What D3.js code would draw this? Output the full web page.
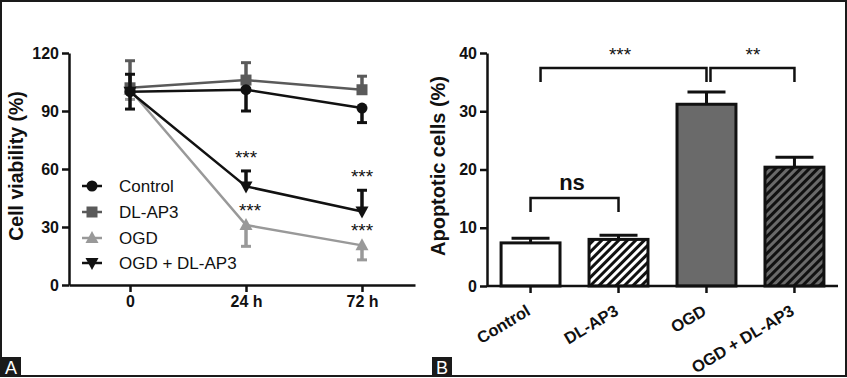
<!DOCTYPE html>
<html><head><meta charset="utf-8">
<script src="https://cdn.jsdelivr.net/npm/d3@7"></script>
<style>body{margin:0;background:#fff}svg{display:block}text{font-family:"Liberation Sans",Arial,sans-serif}</style>
</head><body><svg id="c" width="847" height="378"></svg>
<script>
// ---- Panel A data ----
const timeLabels = ["0", "24 h", "72 h"];
const seriesNames = ["Control", "DL-AP3", "OGD", "OGD + DL-AP3"];
const controlVals = [100, 101, 91.5];
const controlErr = [9, 11, 7.5];
const dlap3Vals = [102, 106, 101];
const dlap3Err = [14, 9, 7];
const ogdVals = [101, 31, 20.5];
const ogdErr = [5, 11, 7.5];
const ogdDlVals = [100, 51, 38];
const ogdDlErr = [9, 8, 11];
const viabilityTicks = [0, 30, 60, 90, 120];
const sigA = [{s: 3, i: 1, t: "***"}, {s: 3, i: 2, t: "***"}, {s: 2, i: 1, t: "***"}, {s: 2, i: 2, t: "***"}];

// ---- Panel B data ----
const groups = ["Control", "DL-AP3", "OGD", "OGD + DL-AP3"];
const apoptVals = [7.4, 8.0, 31.2, 20.4];
const apoptErr = [0.8, 0.7, 2.1, 1.7];
const apoptTicks = [0, 10, 20, 30, 40];

const svg = d3.select("#c");
const defs = svg.append("defs");
function hatch(id, bg) {
  const p = defs.append("pattern").attr("id", id).attr("patternUnits", "userSpaceOnUse")
    .attr("width", 6).attr("height", 6).attr("patternTransform", "rotate(45)");
  p.append("rect").attr("width", 6).attr("height", 6).attr("fill", bg);
  p.append("line").attr("x1", 1.5).attr("x2", 1.5).attr("y1", 0).attr("y2", 6)
    .attr("stroke", "#111").attr("stroke-width", 3);
}
hatch("h1", "#fff");
hatch("h2", "#6a6a6a");

// border
svg.append("rect").attr("x", 1).attr("y", 1).attr("width", 845).attr("height", 375)
  .attr("fill", "none").attr("stroke", "#1a1a1a").attr("stroke-width", 2);

function styleAxis(g) {
  g.selectAll("path,line").attr("stroke", "#111").attr("stroke-width", 2.5);
  g.selectAll("text").attr("font-weight", "bold").attr("font-size", 16).attr("fill", "#111");
}

// ===== Panel A =====
const xA = d3.scaleLinear().domain([-0.526, 2.457]).range([69, 415]);
const yA = d3.scaleLinear().domain([0, 120]).range([285, 53]);
const gA = svg.append("g");
gA.append("g").attr("transform", "translate(69,0)")
  .call(d3.axisLeft(yA).tickValues(viabilityTicks).tickSize(7).tickSizeOuter(0).tickPadding(3))
  .call(styleAxis);
gA.append("g").attr("transform", "translate(0,285)")
  .call(d3.axisBottom(xA).tickValues([0, 1, 2]).tickFormat(i => timeLabels[i]).tickSize(7).tickSizeOuter(0).tickPadding(4))
  .call(styleAxis);
gA.append("text").attr("transform", "translate(23,166) rotate(-90)").attr("text-anchor", "middle")
  .attr("font-weight", "bold").attr("font-size", 19.5).attr("fill", "#111").text("Cell viability (%)");

const series = [
  {vals: controlVals, err: controlErr, color: "#111", shape: "circle", dir: 1},
  {vals: dlap3Vals, err: dlap3Err, color: "#5a5a5a", shape: "square", dir: -1},
  {vals: ogdVals, err: ogdErr, color: "#999", shape: "tri", dir: 1},
  {vals: ogdDlVals, err: ogdDlErr, color: "#111", shape: "tridown", dir: -1}
];
function marker(g, shape, x, y, color) {
  if (shape === "circle") g.append("circle").attr("cx", x).attr("cy", y).attr("r", 5.5).attr("fill", color);
  else if (shape === "square") g.append("rect").attr("x", x - 5.5).attr("y", y - 5.5).attr("width", 11).attr("height", 11).attr("fill", color);
  else if (shape === "tri") g.append("path").attr("d", `M${x},${y-7}L${x+6.5},${y+5}L${x-6.5},${y+5}Z`).attr("fill", color);
  else g.append("path").attr("d", `M${x},${y+7}L${x+6.5},${y-5}L${x-6.5},${y-5}Z`).attr("fill", color);
}
const drawOrder = [2, 1, 0, 3];
drawOrder.forEach(k => {
  const s = series[k];
  const g = gA.append("g");
  g.append("path").datum(s.vals)
    .attr("d", d3.line().x((d, i) => xA(i)).y(d => yA(d)))
    .attr("fill", "none").attr("stroke", s.color).attr("stroke-width", 2.5);
  s.vals.forEach((v, i) => {
    const y2 = yA(v - s.dir * s.err[i]);
    g.append("line").attr("x1", xA(i)).attr("x2", xA(i)).attr("y1", yA(v)).attr("y2", y2)
      .attr("stroke", s.color).attr("stroke-width", 3.5);
    g.append("line").attr("x1", xA(i) - 5).attr("x2", xA(i) + 5).attr("y1", y2).attr("y2", y2)
      .attr("stroke", s.color).attr("stroke-width", 3);
    marker(g, s.shape, xA(i), yA(v), s.color);
  });
});
sigA.forEach(d => {
  const s = series[d.s];
  const top = yA(s.vals[d.i] + (s.dir < 0 ? s.err[d.i] : 0));
  gA.append("text").attr("x", xA(d.i) + (d.s === 2 && d.i === 1 ? 4 : 0)).attr("y", top - (d.s === 2 ? 8 : 7))
    .attr("text-anchor", "middle").attr("font-size", 19).attr("fill", "#111").text(d.t);
});
// legend
const legY = [186, 212, 238, 263];
series.forEach((s, k) => {
  const g = gA.append("g");
  g.append("line").attr("x1", 82).attr("x2", 102).attr("y1", legY[k]).attr("y2", legY[k])
    .attr("stroke", s.color).attr("stroke-width", 2.5);
  marker(g, s.shape, 92, legY[k], s.color);
  g.append("text").attr("x", 119).attr("y", legY[k] + 6).attr("font-size", 17).attr("fill", "#111").text(seriesNames[k]);
});

// ===== Panel B =====
const xB = d3.scaleBand().domain(groups).range([487, 838]).paddingInner(0.33).paddingOuter(0.16);
const yB = d3.scaleLinear().domain([0, 40]).range([286, 53]);
const gB = svg.append("g");
const fills = ["#fff", "url(#h1)", "#6a6a6a", "url(#h2)"];
groups.forEach((c, k) => {
  const cx = xB(c) + xB.bandwidth() / 2;
  const yt = yB(apoptVals[k] + apoptErr[k]);
  gB.append("line").attr("x1", cx).attr("x2", cx).attr("y1", yB(apoptVals[k])).attr("y2", yt)
    .attr("stroke", "#111").attr("stroke-width", 3);
  gB.append("line").attr("x1", cx - 19).attr("x2", cx + 19).attr("y1", yt).attr("y2", yt)
    .attr("stroke", "#111").attr("stroke-width", 3);
  gB.append("rect").attr("x", xB(c)).attr("y", yB(apoptVals[k])).attr("width", xB.bandwidth())
    .attr("height", yB(0) - yB(apoptVals[k])).attr("fill", fills[k]).attr("stroke", "#111").attr("stroke-width", 3);
});
gB.append("g").attr("transform", "translate(487,0)")
  .call(d3.axisLeft(yB).tickValues(apoptTicks).tickSize(7).tickSizeOuter(0).tickPadding(3))
  .call(styleAxis);
const axB = gB.append("g").attr("transform", "translate(0,286)")
  .call(d3.axisBottom(xB).tickSize(7).tickSizeOuter(0).tickPadding(4))
  .call(styleAxis);
axB.select(".domain").attr("d", "M487,0H838");
axB.selectAll("text").attr("text-anchor", "end").attr("x", 0).attr("y", 0).attr("dy", 0)
  .attr("transform", "translate(1,28) rotate(-31)").attr("font-size", 16.5);
gB.append("text").attr("transform", "translate(445,166) rotate(-90)").attr("text-anchor", "middle")
  .attr("font-weight", "bold").attr("font-size", 20).attr("fill", "#111").text("Apoptotic cells (%)");

function bracket(x1, x2, yTop, yLeg, label, ly, lx, fs, bold) {
  gB.append("path").attr("d", `M${x1},${yLeg}V${yTop}H${x2}V${yLeg}`)
    .attr("fill", "none").attr("stroke", "#111").attr("stroke-width", 2.5);
  gB.append("text").attr("x", lx).attr("y", ly).attr("text-anchor", "middle").attr("font-size", fs)
    .attr("font-weight", bold ? "bold" : "normal").attr("fill", "#111").text(label);
}
const cB = k => xB(groups[k]) + xB.bandwidth() / 2;
bracket(cB(0) + 10, cB(2), 68, 82, "***", 61, 620, 19, false);
bracket(cB(2) + 4, cB(3), 68, 82, "**", 61, 753, 19, false);
bracket(cB(0), cB(1), 198, 212, "ns", 190, 572, 22, true);

// panel letters
function letter(x, t) {
  svg.append("rect").attr("x", x).attr("y", 357).attr("width", 20).attr("height", 20).attr("fill", "#1a1a1a");
  svg.append("text").attr("x", x + 10).attr("y", 374).attr("text-anchor", "middle").attr("font-size", 18)
    .attr("fill", "#fff").text(t);
}
letter(1, "A");
letter(432, "B");
</script></body></html>
